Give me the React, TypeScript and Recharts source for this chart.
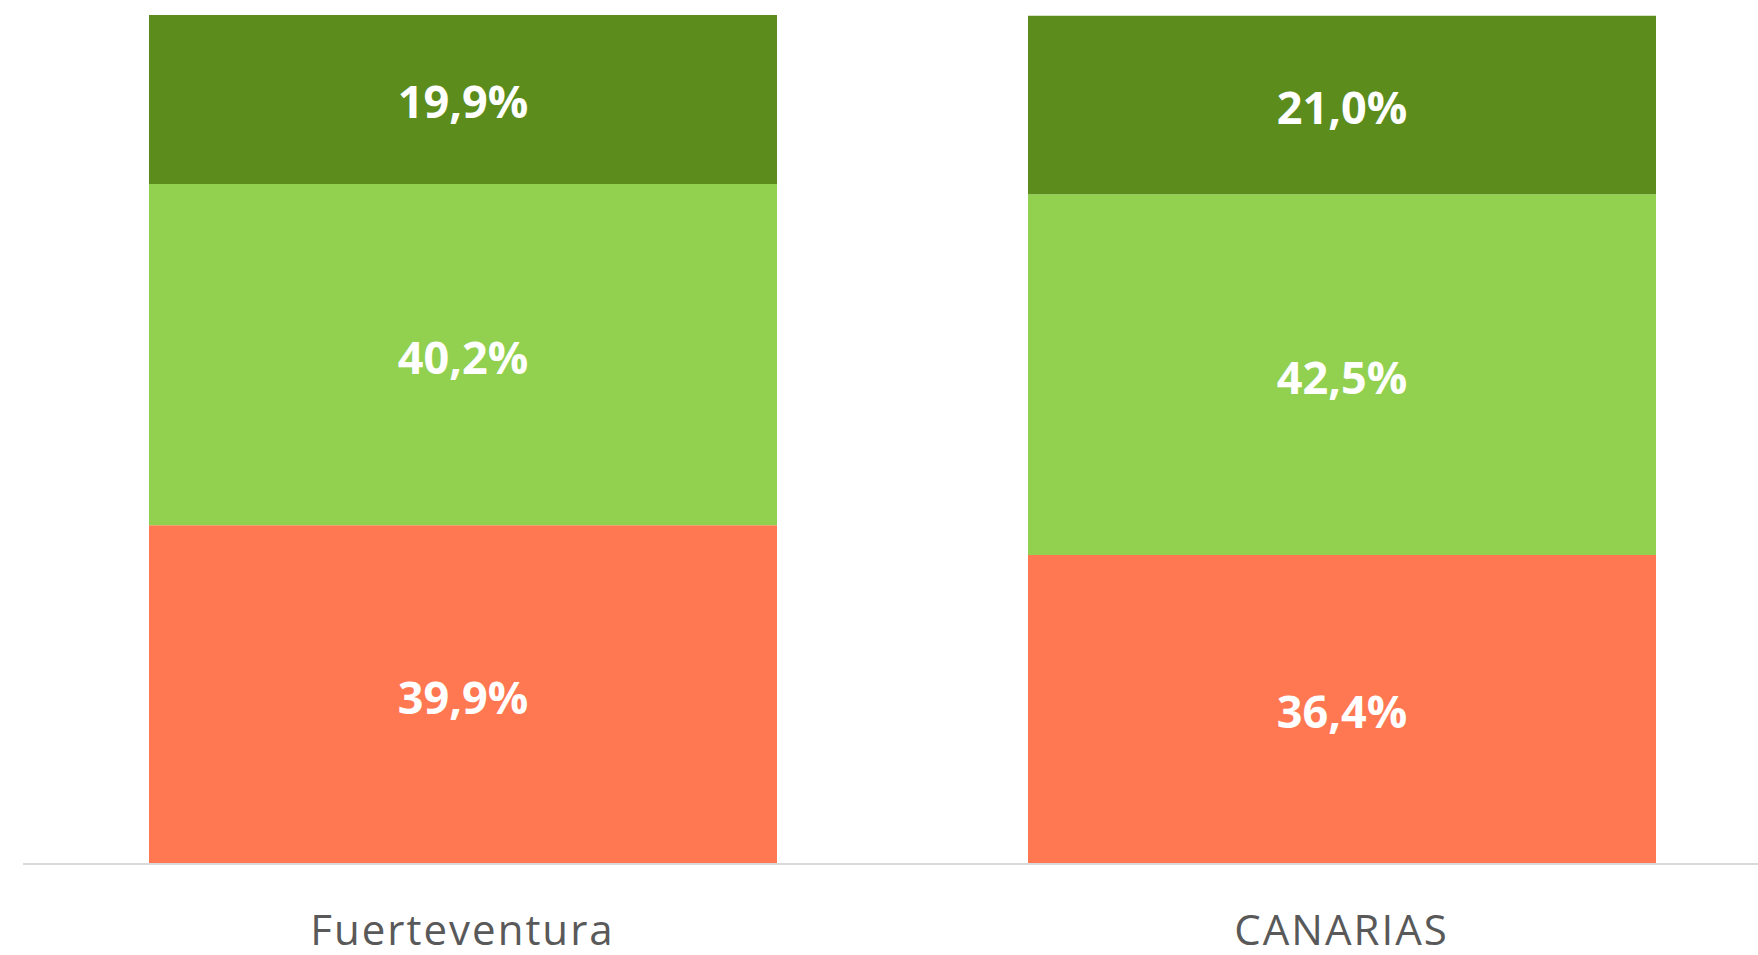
import { BarChart, Bar, XAxis, YAxis, LabelList } from 'recharts';

const categories = ['Fuerteventura', 'CANARIAS'];
const bottomShare = [39.9, 36.4];
const middleShare = [40.2, 42.5];
const topShare = [19.9, 21.0];

const data = categories.map((name, i) => ({
  name,
  bajo: bottomShare[i],
  medio: middleShare[i],
  alto: topShare[i],
}));

const FONT = '"Open Sans", "Noto Sans", sans-serif';

const fmt = (v: number) => `${v.toFixed(1).replace('.', ',')}%`;

function CategoryTick({ x, y, payload }: any) {
  return (
    <text
      x={x}
      y={y + 73}
      textAnchor="middle"
      fill="#595959"
      fontSize={42}
      letterSpacing={2}
      fontFamily={FONT}
    >
      {payload.value}
    </text>
  );
}

const labelStyle = {
  fill: '#ffffff',
  fontSize: 45,
  fontWeight: 700,
  fontFamily: FONT,
};

export default function App() {
  return (
    <div
      style={{
        position: 'absolute',
        left: 0,
        top: 0,
        width: 1758,
        height: 955,
        overflow: 'hidden',
        background: '#fff',
      }}
    >
      <BarChart
        width={1790}
        height={955}
        data={data}
        margin={{ top: 15, right: 9, bottom: 0, left: 23 }}
        barSize={628}
      >
        <XAxis
          dataKey="name"
          height={91}
          axisLine={{ stroke: '#d9d9d9', strokeWidth: 2 }}
          tickLine={false}
          tick={<CategoryTick />}
          interval={0}
        />
        <YAxis hide domain={[0, 100]} />
        <Bar dataKey="bajo" stackId="s" fill="#ff7852" isAnimationActive={false}>
          <LabelList dataKey="bajo" position="center" formatter={fmt} style={labelStyle} dy={3} />
        </Bar>
        <Bar dataKey="medio" stackId="s" fill="#92d050" isAnimationActive={false}>
          <LabelList dataKey="medio" position="center" formatter={fmt} style={labelStyle} dy={3} />
        </Bar>
        <Bar dataKey="alto" stackId="s" fill="#5b8c1c" isAnimationActive={false}>
          <LabelList dataKey="alto" position="center" formatter={fmt} style={labelStyle} dy={3} />
        </Bar>
      </BarChart>
    </div>
  );
}
